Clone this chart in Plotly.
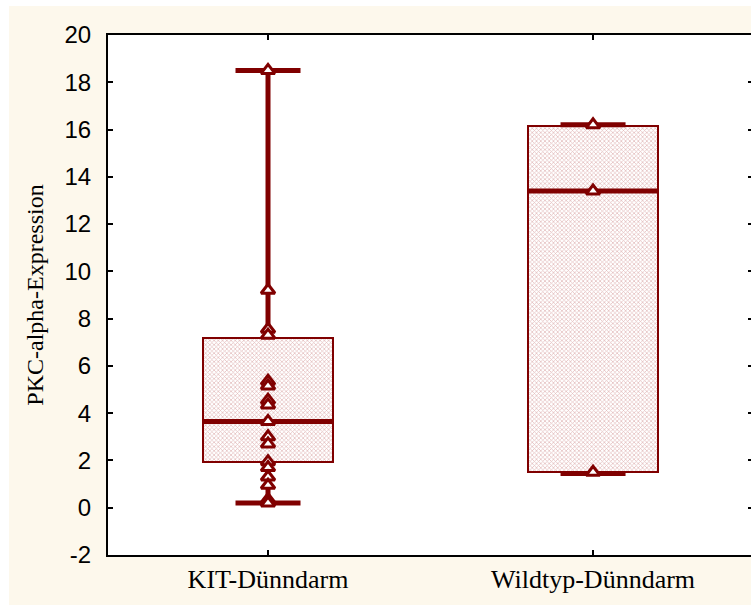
import plotly.graph_objects as go

# Groups and per-group summary statistics
groups = ["KIT-Dünndarm", "Wildtyp-Dünndarm"]
minimum = [0.2, 1.45]
q1 = [1.95, 1.5]
median = [3.65, 13.4]
q3 = [7.2, 16.15]
maximum = [18.5, 16.2]

# Individual observations per group
kit_values = [18.5, 9.2, 7.55, 7.3, 5.35, 5.15, 4.55, 4.35, 3.65,
              3.0, 2.7, 1.95, 1.7, 1.3, 0.95, 0.35, 0.2]
wildtyp_values = [16.2, 13.4, 1.5]
observations = [kit_values, wildtyp_values]

y_ticks = list(range(-2, 21, 2))
y_tick_labels = [str(v) for v in y_ticks]

DARK_RED = "#800000"
CREAM = "#FDF8EC"
BOX_WIDTH = 0.4
CAP_WIDTH = 0.2

positions = list(range(len(groups)))

fig = go.Figure()

# Boxes (interquartile range) with fine hatched fill
fig.add_trace(go.Bar(
    x=positions,
    base=q1,
    y=[b - a for a, b in zip(q1, q3)],
    width=BOX_WIDTH,
    marker=dict(
        color="white",
        line=dict(color=DARK_RED, width=2),
        pattern=dict(shape="x", size=3, solidity=0.4,
                     fgcolor="#C47070", bgcolor="white"),
    ),
    hoverinfo="skip",
    showlegend=False,
))

# Whiskers outside the box, caps and medians
for i in positions:
    fig.add_trace(go.Scatter(
        x=[i, i, None, i, i],
        y=[minimum[i], q1[i], None, q3[i], maximum[i]],
        mode="lines", line=dict(color=DARK_RED, width=5),
        hoverinfo="skip", showlegend=False,
    ))
    fig.add_trace(go.Scatter(
        x=[i - CAP_WIDTH / 2, i + CAP_WIDTH / 2, None,
           i - CAP_WIDTH / 2, i + CAP_WIDTH / 2],
        y=[minimum[i], minimum[i], None, maximum[i], maximum[i]],
        mode="lines", line=dict(color=DARK_RED, width=5),
        hoverinfo="skip", showlegend=False,
    ))
    fig.add_trace(go.Scatter(
        x=[i - BOX_WIDTH / 2, i + BOX_WIDTH / 2],
        y=[median[i], median[i]],
        mode="lines", line=dict(color=DARK_RED, width=5),
        hoverinfo="skip", showlegend=False,
    ))

# Raw data points
for i, vals in zip(positions, observations):
    fig.add_trace(go.Scatter(
        x=[i] * len(vals),
        y=vals,
        mode="markers",
        marker=dict(symbol="triangle-up", size=12, color="white",
                    line=dict(color=DARK_RED, width=3)),
        showlegend=False,
    ))

# Empty trace that carries the right-hand tick marks
fig.add_trace(go.Scatter(x=[None], y=[None], yaxis="y2",
                         hoverinfo="skip", showlegend=False))

W, H = 751, 607
ML, MR, MT, MB = 108, 0, 35, 52
pw = W - ML - MR
ph = H - MT - MB


def px_x(p):
    return (p - ML) / pw


def px_y(p):
    return (H - MB - p) / ph


# Cream page background, leaving a thin white frame on the left, top and bottom
fig.add_shape(type="rect", xref="paper", yref="paper",
              x0=px_x(0), x1=px_x(9), y0=px_y(H + 5), y1=px_y(-5),
              fillcolor="white", line_width=0, layer="below")
fig.add_shape(type="rect", xref="paper", yref="paper",
              x0=px_x(0), x1=px_x(W + 5), y0=px_y(6), y1=px_y(-5),
              fillcolor="white", line_width=0, layer="below")
fig.add_shape(type="rect", xref="paper", yref="paper",
              x0=px_x(0), x1=px_x(W + 5), y0=px_y(H + 5), y1=px_y(605),
              fillcolor="white", line_width=0, layer="below")

fig.update_layout(
    width=W, height=H,
    margin=dict(l=ML, r=MR, t=MT, b=MB, pad=0),
    paper_bgcolor=CREAM,
    plot_bgcolor="white",
    bargap=0,
    xaxis=dict(
        range=[-0.4923, 1.486],
        tickvals=positions,
        ticktext=groups,
        ticks="inside", ticklen=5, tickwidth=1.5, tickcolor="black",
        showline=True, linecolor="black", linewidth=2, mirror="ticks",
        showgrid=False, zeroline=False,
        tickfont=dict(family="Liberation Serif, Times New Roman, serif",
                      size=26, color="black"),
    ),
    yaxis=dict(
        range=[-2, 20],
        tickvals=y_ticks,
        ticktext=y_tick_labels,
        ticks="inside", ticklen=5, tickwidth=1.5, tickcolor="black",
        showline=True, linecolor="black", linewidth=2,
        showgrid=False, zeroline=False,
        ticklabelstandoff=10,
        tickfont=dict(family="Liberation Sans, Arial, sans-serif",
                      size=24, color="black"),
        title=dict(text="PKC-alpha-Expression", standoff=14,
                   font=dict(family="Liberation Serif, Times New Roman, serif",
                             size=24, color="black")),
    ),
    yaxis2=dict(
        range=[-2, 20],
        tickvals=y_ticks,
        overlaying="y", side="right", anchor="x",
        ticks="inside", ticklen=3, tickwidth=1.5, tickcolor="black",
        showticklabels=False, showline=False,
        showgrid=False, zeroline=False,
    ),
)

fig.write_html("out.html")
